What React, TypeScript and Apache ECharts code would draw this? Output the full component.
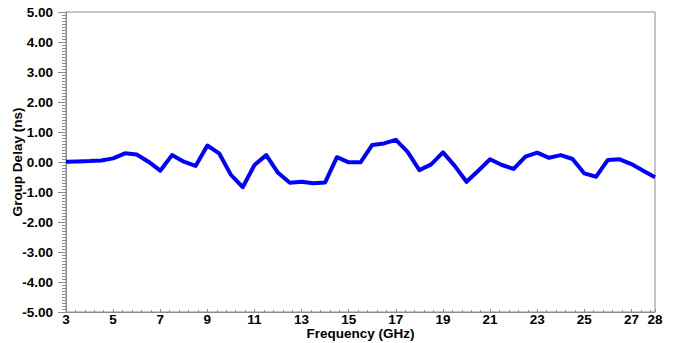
import React, { useEffect, useRef } from "react";
import * as echarts from "echarts";

const frequencies = [
  3, 3.5, 4, 4.5, 5, 5.5, 6, 6.5, 7, 7.5, 8, 8.5, 9, 9.5, 10, 10.5, 11, 11.5, 12, 12.5,
  13, 13.5, 14, 14.5, 15, 15.5, 16, 16.5, 17, 17.5, 18, 18.5, 19, 19.5, 20, 20.5, 21,
  21.5, 22, 22.5, 23, 23.5, 24, 24.5, 25, 25.5, 26, 26.5, 27, 27.5, 28,
];
const groupDelay = [
  0.01, 0.02, 0.03, 0.05, 0.12, 0.29, 0.25, 0.01, -0.29, 0.23, 0.01, -0.13, 0.55, 0.29,
  -0.43, -0.84, -0.1, 0.23, -0.36, -0.69, -0.66, -0.71, -0.68, 0.16, -0.01, -0.01, 0.57,
  0.62, 0.74, 0.34, -0.27, -0.08, 0.32, -0.13, -0.66, -0.29, 0.09, -0.1, -0.23, 0.18,
  0.31, 0.14, 0.23, 0.1, -0.38, -0.49, 0.07, 0.09, -0.07, -0.29, -0.51,
];
const freqStart = 3;
const freqEnd = 28;
const xTickStep = 2;
const yMin = -5;
const yMax = 5;
const yStep = 1;

const FONT = "'Liberation Sans', Arial, sans-serif";
const AXIS_COLOR = "#8c8c8c";

export default function App() {
  const ref = useRef<HTMLDivElement>(null);
  useEffect(() => {
    if (!ref.current) return;
    const chart = echarts.init(ref.current, null, { renderer: "svg" });
    chart.setOption({
      animation: false,
      backgroundColor: "#ffffff",
      grid: {
        left: 66,
        right: 23,
        top: 12,
        height: 300,
        containLabel: false,
        outerBoundsMode: "none",
        show: true,
        borderColor: AXIS_COLOR,
        borderWidth: 1,
        backgroundColor: "transparent",
      },
      xAxis: {
        type: "value",
        min: 0,
        max: freqEnd - freqStart,
        interval: xTickStep,
        name: "Frequency (GHz)",
        nameLocation: "middle",
        nameGap: 14,
        nameMoveOverlap: false,
        nameTextStyle: { fontFamily: FONT, fontWeight: "bold", fontSize: 13.5, color: "#000" },
        axisLine: { show: true, onZero: false, lineStyle: { color: AXIS_COLOR, width: 1 } },
        axisTick: { show: true, inside: true, length: 3, lineStyle: { color: AXIS_COLOR } },
        minorTick: { show: true, splitNumber: 5, length: 2, lineStyle: { color: AXIS_COLOR } },
        splitLine: { show: false },
        axisLabel: {
          margin: 1,
          fontFamily: FONT,
          fontWeight: "bold",
          fontSize: 13.5,
          lineHeight: 13,
          color: "#000",
          formatter: (v: number) => String(v + freqStart),
        },
      },
      yAxis: {
        type: "value",
        min: yMin,
        max: yMax,
        interval: yStep,
        name: "Group Delay (ns)",
        nameLocation: "middle",
        nameGap: 42,
        nameMoveOverlap: false,
        nameTextStyle: { fontFamily: FONT, fontWeight: "bold", fontSize: 13.5, color: "#000" },
        axisLine: { show: true, onZero: false, lineStyle: { color: AXIS_COLOR, width: 1 } },
        axisTick: { show: true, inside: false, length: 8, lineStyle: { color: AXIS_COLOR } },
        minorTick: { show: true, splitNumber: 10, length: 4, lineStyle: { color: AXIS_COLOR } },
        splitLine: { show: false },
        axisLabel: {
          margin: 13,
          fontFamily: FONT,
          fontWeight: "bold",
          fontSize: 13.5,
          color: "#000",
          formatter: (v: number) => v.toFixed(2),
        },
      },
      series: [
        {
          type: "line",
          data: frequencies.map((f, i) => [f - freqStart, groupDelay[i]]),
          showSymbol: false,
          symbol: "none",
          lineStyle: { color: "#0000ff", width: 4, join: "round" },
          itemStyle: { color: "#0000ff" },
        },
      ],
    });
    return () => chart.dispose();
  }, []);
  return (
    <div
      ref={ref}
      style={{ position: "fixed", left: 0, top: 0, width: 678, height: 343 }}
    />
  );
}
